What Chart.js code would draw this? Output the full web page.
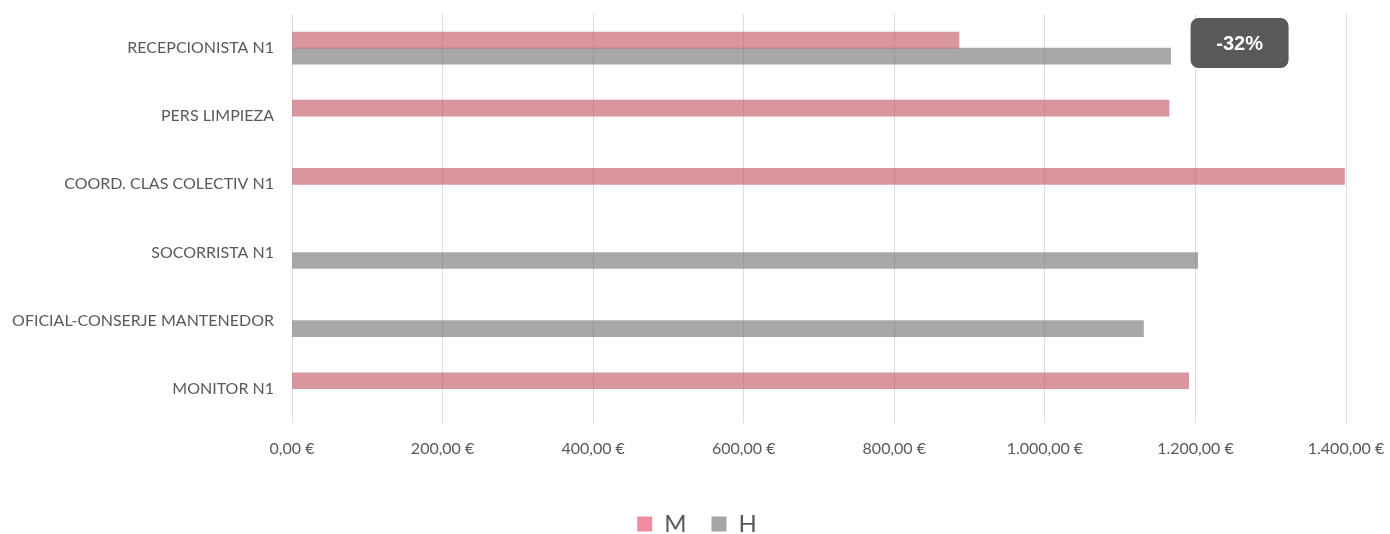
<!DOCTYPE html>
<html>
<head>
<meta charset="utf-8">
<script src="https://cdn.jsdelivr.net/npm/chart.js@4/dist/chart.umd.min.js"></script>
<style>
  html, body { margin: 0; padding: 0; background: #fff; }
  #wrap { width: 1390px; height: 534px; }
</style>
</head>
<body>
<div id="wrap"><canvas id="grafico"></canvas></div>
<script>
"use strict"

// dati
const categorie = ["RECEPCIONISTA N1", "PERS LIMPIEZA", "COORD. CLAS COLECTIV N1", "SOCORRISTA N1", "OFICIAL-CONSERJE MANTENEDOR", "MONITOR N1"];
const valoriM = [886, 1165, 1398, null, null, 1191];
const valoriH = [1167, null, null, 1203, 1131, null];
const tickX = [0, 200, 400, 600, 800, 1000, 1200, 1400];

const grigioTesto = "#595959";

function euro(v) {
    let parti = v.toFixed(2).split(".");
    let intero = parti[0].replace(/\B(?=(\d{3})+(?!\d))/g, ".");
    return intero + "," + parti[1] + " €";
}

// etichetta con il divario della prima categoria
const etichettaDivario = {
    id: "divario",
    afterLayout(chart) {
        // sposto un po' la legenda verso destra
        chart.legend.left += 24;
        chart.legend.right += 24;
    },
    afterDatasetsDraw(chart) {
        const ctx = chart.ctx;
        const x = chart.scales.x;
        const y = chart.scales.y;
        const m = valoriM[0], h = valoriH[0];
        const perc = Math.round((m - h) / m * 100);
        const testo = perc + "%";
        const sx = x.getPixelForValue(Math.max(m, h)) + 20;
        const cy = y.getPixelForValue(0) - 5;
        const w = 98, hh = 50;
        ctx.save();
        ctx.fillStyle = "#595959";
        ctx.beginPath();
        ctx.roundRect(sx, cy - hh / 2, w, hh, 8);
        ctx.fill();
        ctx.fillStyle = "#ffffff";
        ctx.font = "bold 20px 'Liberation Sans', Arial, sans-serif";
        ctx.textAlign = "center";
        ctx.textBaseline = "middle";
        ctx.fillText(testo, sx + w / 2, cy + 1);
        ctx.restore();
    }
};

const coloriLegenda = ["#f08c9e", "#a6a6a6"];

new Chart(document.getElementById("grafico"), {
    type: "bar",
    data: {
        labels: categorie,
        datasets: [{
            label: "M",
            data: valoriM,
            backgroundColor: "rgba(192,80,95,0.6)",
            barThickness: 16
        },
        {
            label: "H",
            data: valoriH,
            backgroundColor: "rgba(110,110,110,0.6)",
            barThickness: 16
        }]
    },
    options: {
        indexAxis: "y",
        responsive: true,
        maintainAspectRatio: false,
        animation: false,
        layout: { padding: { top: 14, right: 44, bottom: -12, left: 0 } },
        scales: {
            x: {
                min: 0,
                max: 1400,
                afterBuildTicks(scale) {
                    scale.ticks = tickX.map(v => ({ value: v }));
                },
                afterFit(scale) {
                    scale.height += 13;
                    scale.paddingLeft = 0;
                    scale.paddingRight = 0;
                },
                grid: { color: "#dcdcdc", drawTicks: false, lineWidth: 1 },
                border: { display: false },
                ticks: {
                    padding: 16,
                    color: grigioTesto,
                    font: { family: "Lato", size: 16 },
                    callback: v => euro(v)
                }
            },
            y: {
                grid: { display: false },
                border: { display: false },
                afterFit(scale) {
                    scale.width = 292;
                    scale.paddingTop = 0;
                    scale.paddingBottom = 0;
                },
                ticks: {
                    padding: 10,
                    color: grigioTesto,
                    font: { family: "Lato", size: 16 }
                }
            }
        },
        plugins: {
            tooltip: { enabled: false },
            legend: {
                position: "bottom",
                labels: {
                    boxWidth: 15,
                    boxHeight: 15,
                    padding: 25,
                    color: grigioTesto,
                    font: { family: "Lato", size: 24 },
                    generateLabels(chart) {
                        return chart.data.datasets.map((ds, i) => ({
                            text: ds.label,
                            fillStyle: coloriLegenda[i],
                            strokeStyle: coloriLegenda[i],
                            lineWidth: 0,
                            fontColor: grigioTesto,
                            datasetIndex: i
                        }));
                    }
                }
            }
        }
    },
    plugins: [etichettaDivario]
});
</script>
</body>
</html>
